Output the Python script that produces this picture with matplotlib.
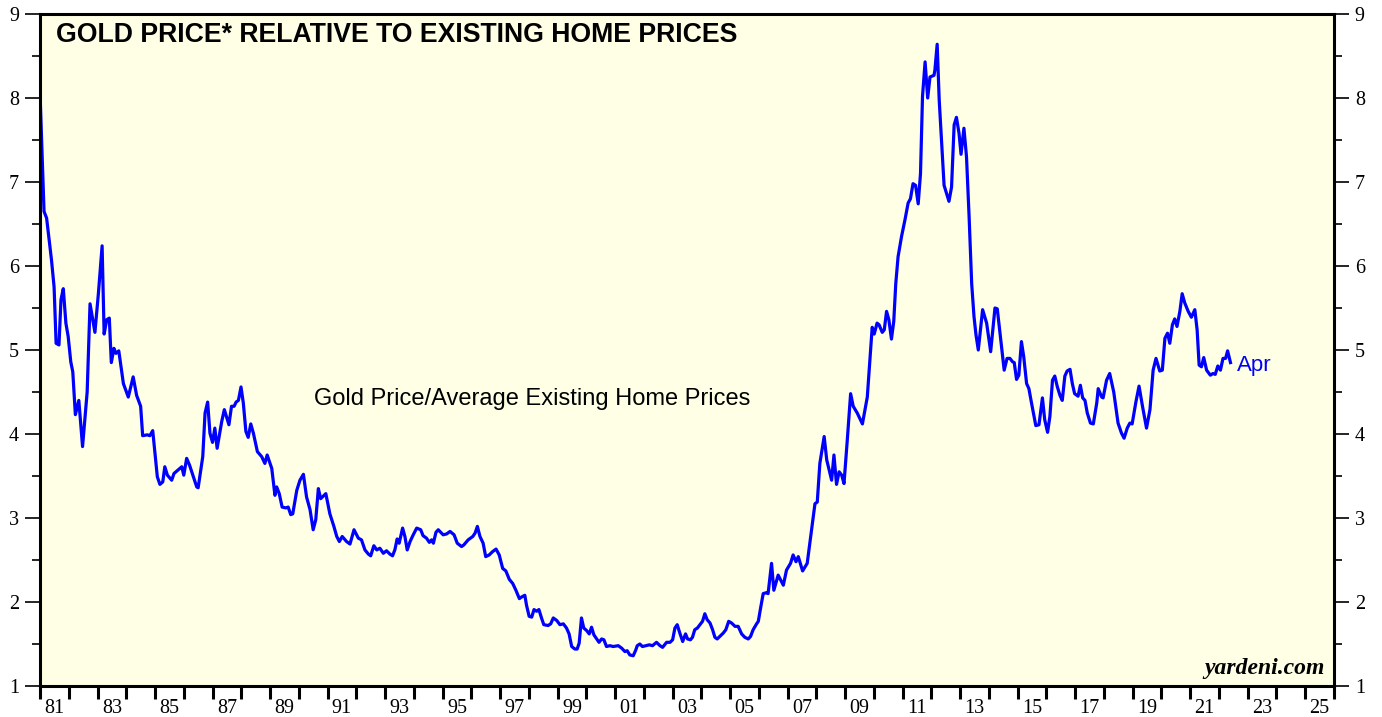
import matplotlib
matplotlib.use("Agg")
import matplotlib.pyplot as plt
from matplotlib.ticker import FixedLocator, MultipleLocator, NullFormatter, FixedFormatter

# ---- data (decimal year, gold price / average existing home price) ----
years = [
    1981.00, 1981.14, 1981.23, 1981.40, 1981.49, 1981.56, 1981.66, 1981.73, 1981.81, 1981.90,
    1981.98, 1982.07, 1982.14, 1982.23, 1982.35, 1982.48, 1982.64, 1982.74, 1982.91, 1983.03,
    1983.16, 1983.23, 1983.32, 1983.41, 1983.48, 1983.57, 1983.64, 1983.74, 1983.90, 1984.07,
    1984.24, 1984.36, 1984.50, 1984.57, 1984.73, 1984.82, 1984.92, 1985.08, 1985.17, 1985.27,
    1985.34, 1985.43, 1985.58, 1985.66, 1985.93, 1986.00, 1986.10, 1986.20, 1986.45, 1986.50,
    1986.66, 1986.74, 1986.83, 1986.91, 1987.00, 1987.08, 1987.16, 1987.32, 1987.41, 1987.57,
    1987.66, 1987.75, 1987.82, 1987.90, 1987.99, 1988.07, 1988.16, 1988.24, 1988.33, 1988.42,
    1988.56, 1988.71, 1988.82, 1988.90, 1989.06, 1989.17, 1989.23, 1989.32, 1989.42, 1989.55,
    1989.63, 1989.72, 1989.79, 1989.93, 1990.04, 1990.16, 1990.27, 1990.39, 1990.50, 1990.59,
    1990.68, 1990.76, 1990.94, 1991.08, 1991.22, 1991.32, 1991.41, 1991.51, 1991.66, 1991.78,
    1991.92, 1992.07, 1992.18, 1992.30, 1992.42, 1992.50, 1992.61, 1992.71, 1992.82, 1992.94,
    1993.05, 1993.17, 1993.26, 1993.34, 1993.42, 1993.49, 1993.61, 1993.69, 1993.77, 1993.87,
    1993.98, 1994.10, 1994.24, 1994.32, 1994.44, 1994.54, 1994.62, 1994.68, 1994.77, 1994.85,
    1995.02, 1995.14, 1995.26, 1995.40, 1995.51, 1995.66, 1995.74, 1995.89, 1996.05, 1996.13,
    1996.21, 1996.30, 1996.41, 1996.50, 1996.62, 1996.74, 1996.86, 1996.97, 1997.09, 1997.20,
    1997.32, 1997.44, 1997.55, 1997.67, 1997.75, 1997.86, 1997.92, 1998.01, 1998.10, 1998.18,
    1998.27, 1998.35, 1998.44, 1998.52, 1998.67, 1998.76, 1998.85, 1998.97, 1999.08, 1999.20,
    1999.31, 1999.40, 1999.49, 1999.60, 1999.68, 1999.75, 1999.83, 1999.91, 2000.01, 2000.10,
    2000.18, 2000.26, 2000.36, 2000.44, 2000.53, 2000.61, 2000.70, 2000.82, 2000.93, 2001.11,
    2001.23, 2001.34, 2001.42, 2001.51, 2001.63, 2001.72, 2001.77, 2001.86, 2001.95, 2002.07,
    2002.19, 2002.30, 2002.44, 2002.56, 2002.65, 2002.79, 2002.91, 2003.00, 2003.08, 2003.16,
    2003.25, 2003.35, 2003.45, 2003.52, 2003.62, 2003.69, 2003.77, 2003.86, 2003.95, 2004.04,
    2004.12, 2004.20, 2004.30, 2004.39, 2004.47, 2004.55, 2004.64, 2004.76, 2004.85, 2004.95,
    2005.05, 2005.17, 2005.28, 2005.40, 2005.51, 2005.63, 2005.71, 2005.80, 2005.92, 2005.98,
    2006.06, 2006.15, 2006.25, 2006.32, 2006.44, 2006.52, 2006.67, 2006.85, 2006.96, 2007.10,
    2007.19, 2007.29, 2007.37, 2007.52, 2007.68, 2007.80, 2007.95, 2008.03, 2008.12, 2008.27,
    2008.36, 2008.53, 2008.61, 2008.70, 2008.79, 2008.88, 2008.96, 2009.07, 2009.19, 2009.28,
    2009.42, 2009.60, 2009.77, 2009.86, 2009.94, 2010.01, 2010.11, 2010.18, 2010.29, 2010.36,
    2010.44, 2010.52, 2010.61, 2010.69, 2010.76, 2010.84, 2010.96, 2011.08, 2011.19, 2011.27,
    2011.36, 2011.45, 2011.54, 2011.62, 2011.69, 2011.78, 2011.87, 2011.95, 2012.09, 2012.12,
    2012.20, 2012.27, 2012.35, 2012.44, 2012.61, 2012.70, 2012.79, 2012.87, 2012.96, 2013.03,
    2013.13, 2013.22, 2013.31, 2013.40, 2013.48, 2013.55, 2013.63, 2013.78, 2013.92, 2014.06,
    2014.21, 2014.29, 2014.41, 2014.53, 2014.63, 2014.73, 2014.82, 2014.88, 2014.96, 2015.04,
    2015.13, 2015.21, 2015.31, 2015.39, 2015.48, 2015.63, 2015.74, 2015.86, 2015.94, 2016.04,
    2016.12, 2016.21, 2016.29, 2016.38, 2016.47, 2016.55, 2016.64, 2016.72, 2016.82, 2016.90,
    2016.98, 2017.10, 2017.18, 2017.26, 2017.34, 2017.42, 2017.53, 2017.63, 2017.75, 2017.80,
    2017.92, 2017.97, 2018.09, 2018.20, 2018.34, 2018.49, 2018.61, 2018.70, 2018.81, 2018.90,
    2018.98, 2019.11, 2019.22, 2019.34, 2019.48, 2019.60, 2019.71, 2019.81, 2019.94, 2020.03,
    2020.12, 2020.21, 2020.29, 2020.38, 2020.46, 2020.54, 2020.64, 2020.72, 2020.81, 2020.93,
    2021.04, 2021.16, 2021.24, 2021.31, 2021.39, 2021.47, 2021.57, 2021.70, 2021.79, 2021.87,
    2021.96, 2022.05, 2022.14, 2022.23, 2022.30, 2022.40,
]
ratio = [
    8.07, 6.65, 6.57, 6.07, 5.75, 5.08, 5.06, 5.60, 5.73, 5.32,
    5.16, 4.86, 4.74, 4.23, 4.40, 3.85, 4.50, 5.55, 5.21, 5.67,
    6.24, 5.19, 5.36, 5.38, 4.85, 5.02, 4.96, 4.99, 4.60, 4.44,
    4.68, 4.46, 4.33, 3.98, 3.99, 3.98, 4.04, 3.49, 3.40, 3.43,
    3.61, 3.51, 3.45, 3.53, 3.61, 3.51, 3.71, 3.63, 3.37, 3.36,
    3.73, 4.25, 4.38, 4.01, 3.90, 4.07, 3.83, 4.15, 4.29, 4.11,
    4.33, 4.33, 4.38, 4.40, 4.56, 4.37, 4.03, 3.96, 4.12, 4.01,
    3.79, 3.73, 3.65, 3.75, 3.59, 3.27, 3.37, 3.29, 3.13, 3.12,
    3.13, 3.04, 3.05, 3.33, 3.45, 3.52, 3.25, 3.10, 2.86, 2.98,
    3.35, 3.23, 3.29, 3.05, 2.90, 2.78, 2.72, 2.78, 2.72, 2.69,
    2.86, 2.76, 2.74, 2.62, 2.57, 2.55, 2.67, 2.62, 2.64, 2.58,
    2.61, 2.57, 2.55, 2.62, 2.75, 2.70, 2.88, 2.78, 2.62, 2.72,
    2.80, 2.88, 2.86, 2.79, 2.76, 2.71, 2.74, 2.70, 2.83, 2.86,
    2.80, 2.81, 2.84, 2.80, 2.70, 2.66, 2.68, 2.74, 2.78, 2.82,
    2.90, 2.78, 2.70, 2.54, 2.56, 2.60, 2.63, 2.56, 2.40, 2.37,
    2.27, 2.22, 2.14, 2.04, 2.06, 2.08, 1.96, 1.83, 1.82, 1.91,
    1.89, 1.91, 1.81, 1.73, 1.72, 1.74, 1.81, 1.78, 1.73, 1.74,
    1.69, 1.62, 1.47, 1.44, 1.44, 1.51, 1.81, 1.69, 1.66, 1.62,
    1.70, 1.61, 1.56, 1.52, 1.56, 1.55, 1.47, 1.48, 1.47, 1.48,
    1.45, 1.41, 1.42, 1.37, 1.36, 1.43, 1.48, 1.50, 1.47, 1.48,
    1.49, 1.48, 1.52, 1.48, 1.46, 1.52, 1.52, 1.55, 1.69, 1.73,
    1.63, 1.53, 1.62, 1.56, 1.55, 1.58, 1.67, 1.69, 1.73, 1.77,
    1.86, 1.79, 1.75, 1.67, 1.58, 1.56, 1.59, 1.63, 1.67, 1.77,
    1.75, 1.71, 1.71, 1.62, 1.58, 1.56, 1.59, 1.67, 1.74, 1.77,
    1.93, 2.10, 2.11, 2.10, 2.46, 2.14, 2.32, 2.20, 2.38, 2.46,
    2.56, 2.48, 2.54, 2.37, 2.46, 2.78, 3.17, 3.19, 3.65, 3.97,
    3.69, 3.45, 3.75, 3.40, 3.55, 3.51, 3.41, 3.91, 4.48, 4.33,
    4.25, 4.12, 4.44, 4.88, 5.27, 5.19, 5.32, 5.30, 5.21, 5.24,
    5.46, 5.36, 5.13, 5.34, 5.79, 6.11, 6.35, 6.55, 6.75, 6.80,
    6.98, 6.96, 6.74, 7.10, 8.02, 8.43, 8.00, 8.25, 8.27, 8.33,
    8.64, 7.98, 7.50, 6.96, 6.77, 6.94, 7.68, 7.77, 7.58, 7.33,
    7.64, 7.30, 6.59, 5.79, 5.40, 5.18, 5.00, 5.48, 5.32, 4.98,
    5.50, 5.49, 5.12, 4.76, 4.90, 4.90, 4.86, 4.85, 4.65, 4.70,
    5.10, 4.92, 4.60, 4.54, 4.37, 4.10, 4.11, 4.43, 4.17, 4.02,
    4.21, 4.64, 4.69, 4.56, 4.46, 4.40, 4.69, 4.75, 4.77, 4.60,
    4.48, 4.45, 4.58, 4.43, 4.40, 4.25, 4.13, 4.12, 4.37, 4.54,
    4.44, 4.43, 4.64, 4.72, 4.50, 4.13, 4.01, 3.95, 4.07, 4.13,
    4.12, 4.38, 4.57, 4.33, 4.07, 4.29, 4.76, 4.90, 4.75, 4.76,
    5.14, 5.20, 5.08, 5.30, 5.37, 5.28, 5.46, 5.67, 5.56, 5.46,
    5.39, 5.48, 5.24, 4.82, 4.80, 4.91, 4.76, 4.70, 4.72, 4.71,
    4.81, 4.76, 4.90, 4.90, 4.99, 4.85,
]

year_ticks = list(range(1981, 2027))
label_years = list(range(1981, 2026, 2))
label_text = [f"{y % 100:02d}" for y in label_years]
y_major = list(range(1, 10))

title = "GOLD PRICE* RELATIVE TO EXISTING HOME PRICES"
series_label = "Gold Price/Average Existing Home Prices"
end_label = "Apr"
source = "yardeni.com"

# ---- figure ----
fig = plt.figure(figsize=(13.82, 7.17), dpi=100)
ax = fig.add_axes([40 / 1382, 1 - 686 / 717, 1294 / 1382, 672 / 717])
ax.set_facecolor("#FFFFE5")

ax.plot(years, ratio, color="#0000FF", lw=2.3, solid_joinstyle="round")

ax.set_xlim(1981, 2026)
ax.set_ylim(1, 9)

for s in ax.spines.values():
    s.set_linewidth(2.2)
    s.set_color("black")

# y axis: both sides
ax.yaxis.set_major_locator(FixedLocator(y_major))
ax.yaxis.set_minor_locator(MultipleLocator(0.5))
ax.tick_params(axis="y", which="major", direction="out", length=11, width=1.2,
               left=True, right=True, labelleft=True, labelright=True,
               labelsize=14.5, pad=4)
ax.tick_params(axis="y", which="minor", direction="out", length=6, width=1.2,
               left=True, right=True)

# x axis: ticks at year boundaries, labels centered on odd years
ax.xaxis.set_major_locator(FixedLocator(year_ticks))
ax.xaxis.set_major_formatter(NullFormatter())
ax.xaxis.set_minor_locator(FixedLocator([y + 0.5 for y in label_years]))
ax.xaxis.set_minor_formatter(FixedFormatter(label_text))
ax.tick_params(axis="x", which="major", direction="out", length=9, width=2.2)
ax.tick_params(axis="x", which="minor", length=0, labelsize=14.5, pad=9.5)

for lab in ax.xaxis.get_ticklabels(minor=True):
    lab.set_family("Liberation Serif")
for t in ax.yaxis.get_major_ticks():
    t.label1.set_family("Liberation Serif")
    t.label2.set_family("Liberation Serif")

ax.text(0.012, 0.988, title, transform=ax.transAxes, ha="left", va="top",
        fontsize=19.2, fontweight="bold", family="Liberation Sans")
ax.text(1990.53, 4.42, series_label, ha="left", va="center",
        fontsize=17, family="Liberation Sans")
ax.text(2022.62, 4.82, end_label, ha="left", va="center",
        fontsize=16, color="#0000FF", family="Liberation Sans")
ax.text(0.993, 0.010, source, transform=ax.transAxes, ha="right", va="bottom",
        fontsize=17, fontweight="bold", style="italic", family="Liberation Serif")

fig.savefig("out.png", dpi=100)
